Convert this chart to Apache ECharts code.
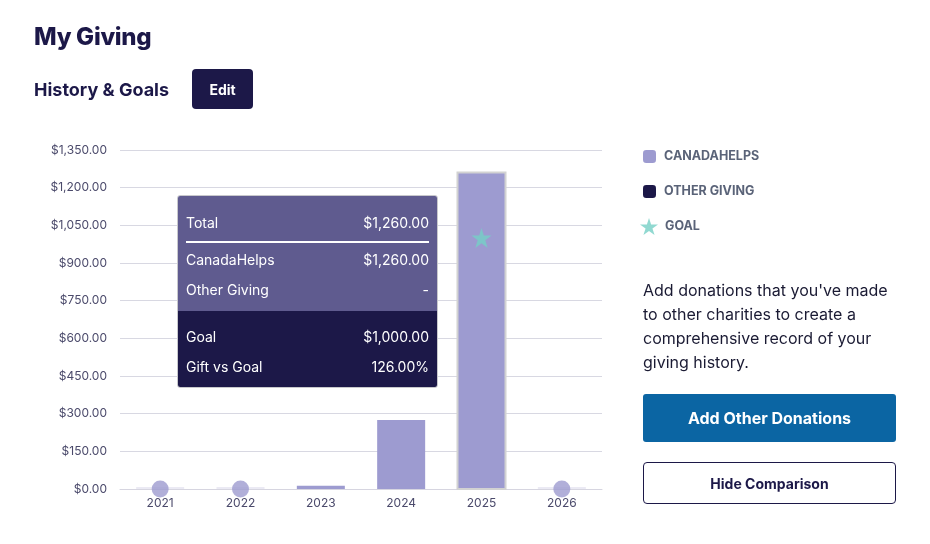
<!DOCTYPE html>
<html>
<head>
<meta charset="utf-8">
<script src="https://cdn.jsdelivr.net/npm/echarts@6/dist/echarts.min.js"></script>
<style>
  html,body{margin:0;padding:0;background:#fff;font-family:Inter,"Noto Sans",sans-serif;}
  #wrap{position:relative;width:930px;height:544px;overflow:hidden;}
  #chart{position:absolute;left:0;top:0;width:930px;height:544px;}
  .ov{position:absolute;color:#1c1848;}
  #title{left:34px;top:22px;font-size:24px;font-weight:800;letter-spacing:-0.3px;}
  #sub{left:34px;top:79px;font-size:18px;font-weight:700;}
  #edit{left:192px;top:69px;width:61px;height:40px;background:#1c1848;border-radius:4px;color:#fff;font-size:14px;font-weight:700;display:flex;align-items:center;justify-content:center;box-sizing:border-box;}
  #para{left:643px;top:278px;width:260px;font-size:16px;line-height:24px;color:#1a1a33;}
  #add{left:643px;top:394px;width:253px;height:48px;background:#0b65a3;border-radius:3px;color:#fff;font-size:16px;font-weight:700;display:flex;align-items:center;justify-content:center;}
  #hide{left:643px;top:462px;width:253px;height:42px;border:1px solid #1c1848;border-radius:4px;box-sizing:border-box;font-size:14px;font-weight:700;display:flex;align-items:center;justify-content:center;}
</style>
</head>
<body>
<div id="wrap">
  <div id="chart"></div>
  <div class="ov" id="title">My Giving</div>
  <div class="ov" id="sub">History &amp; Goals</div>
  <div class="ov" id="edit">Edit</div>
  <div class="ov" id="para">Add donations that you've made to other charities to create a comprehensive record of your giving history.</div>
  <div class="ov" id="add">Add Other Donations</div>
  <div class="ov" id="hide">Hide Comparison</div>
</div>
<script>
var years = ['2021','2022','2023','2024','2025','2026'];
var canadaHelps = [0, 0, 13, 275, 1260, 0];
var otherGiving = [0, 0, 0, 0, 0, 0];
var goals = [null, null, null, null, 1000, null];
var emptyYears = [0, 0, null, null, null, 0];
var yTicks = [0,150,300,450,600,750,900,1050,1200,1350];

var PURPLE = '#9d9bd0', NAVY = '#1c1848', TEAL = '#76cfc5', EMPTY = '#ebeaf4';

function money(v){
  return '$' + v.toFixed(2).replace(/\B(?=(\d{3})+(?!\d))/g, ',');
}

var chBarData = canadaHelps.map(function(v, i){
  return emptyYears[i] === 0 ? {value: v, itemStyle:{color: EMPTY}} : v;
});

var chart = echarts.init(document.getElementById('chart'));
chart.setOption({
  animation: false,
  textStyle: {fontFamily: 'Inter'},
  grid: {left: 120, right: 328, top: 150, bottom: 55},
  legend: [{
    orient: 'vertical', left: 643, top: 150, padding: 0,
    itemWidth: 13, itemHeight: 13, itemGap: 22,
    data: ['CANADAHELPS', 'OTHER GIVING'],
    textStyle: {color: '#5a6378', fontSize: 12.5, fontWeight: 700, padding: [0,0,0,3]},
    selectedMode: false
  }, {
    orient: 'vertical', left: 640, top: 218, padding: 0,
    itemWidth: 18, itemHeight: 18,
    data: ['GOAL'],
    textStyle: {color: '#5a6378', fontSize: 12.5, fontWeight: 700, padding: [0,0,0,2]},
    selectedMode: false
  }],
  tooltip: {
    trigger: 'item',
    alwaysShowContent: true,
    transitionDuration: 0,
    padding: 0,
    borderWidth: 0,
    backgroundColor: 'transparent',
    extraCssText: 'box-shadow:none;',
    position: function(){ return [177, 195]; },
    formatter: function(p){
      var i = p.dataIndex;
      var total = canadaHelps[i] + otherGiving[i];
      var g = goals[i];
      var row = function(a, b, extra){
        return '<div style="display:flex;justify-content:space-between;height:30px;line-height:30px;' + (extra||'') + '"><span>' + a + '</span><span>' + b + '</span></div>';
      };
      return '<div style="width:261px;border:1px solid #c8c8cc;border-radius:3px;overflow:hidden;box-sizing:border-box;font-family:Inter;font-size:14px;color:#fff;">' +
        '<div style="background:#5f5b8f;padding:12px 8px 6px 8px;height:115px;box-sizing:border-box;">' +
          row('Total', money(total)) +
          '<div style="height:2px;background:#fff;margin:3px 0 2px 0;"></div>' +
          row('CanadaHelps', money(canadaHelps[i])) +
          row('Other Giving', otherGiving[i] ? money(otherGiving[i]) : '-') +
        '</div>' +
        '<div style="background:#1c1848;padding:11px 8px 6px 8px;height:76px;box-sizing:border-box;">' +
          row('Goal', g != null ? money(g) : '-') +
          row('Gift vs Goal', g ? (total / g * 100).toFixed(2) + '%' : '-') +
        '</div></div>';
    }
  },
  xAxis: {
    type: 'category',
    data: years,
    axisTick: {show: false},
    axisLine: {lineStyle: {color: '#d6d5e0'}},
    axisLabel: {color: '#4b4a6b', fontSize: 12, margin: 8}
  },
  yAxis: {
    type: 'value',
    min: 0, max: 1350, interval: 150,
    axisLabel: {
      color: '#4b4a6b', fontSize: 12, margin: 13,
      formatter: function(v){ return money(v); }
    },
    splitLine: {lineStyle: {color: '#d8d8e2'}}
  },
  series: [{
    name: 'CANADAHELPS',
    type: 'bar',
    stack: 'total',
    barWidth: 48,
    barMinHeight: 2,
    itemStyle: {color: PURPLE},
    emphasis: {itemStyle: {color: PURPLE, borderColor: '#d2d2d2', borderWidth: 2}},
    data: chBarData
  }, {
    name: 'OTHER GIVING',
    type: 'bar',
    stack: 'total',
    barWidth: 48,
    itemStyle: {color: NAVY},
    data: otherGiving
  }, {
    name: 'GOAL',
    type: 'scatter',
    symbol: 'path://M50,0 L61.2,34.5 L97.6,34.5 L68.2,55.9 L79.4,90.5 L50,69.1 L20.6,90.5 L31.8,55.9 L2.4,34.5 L38.8,34.5 Z',
    symbolSize: 20,
    itemStyle: {color: TEAL},
    emphasis: {disabled: true},
    z: 5,
    data: goals
  }, {
    name: 'none',
    type: 'scatter',
    symbol: 'circle',
    symbolSize: 17,
    itemStyle: {color: PURPLE},
    z: 5,
    tooltip: {show: false},
    data: emptyYears
  }]
});
chart.dispatchAction({type: 'highlight', seriesIndex: 0, dataIndex: 4});
chart.dispatchAction({type: 'showTip', seriesIndex: 0, dataIndex: 4});
</script>
</body>
</html>
